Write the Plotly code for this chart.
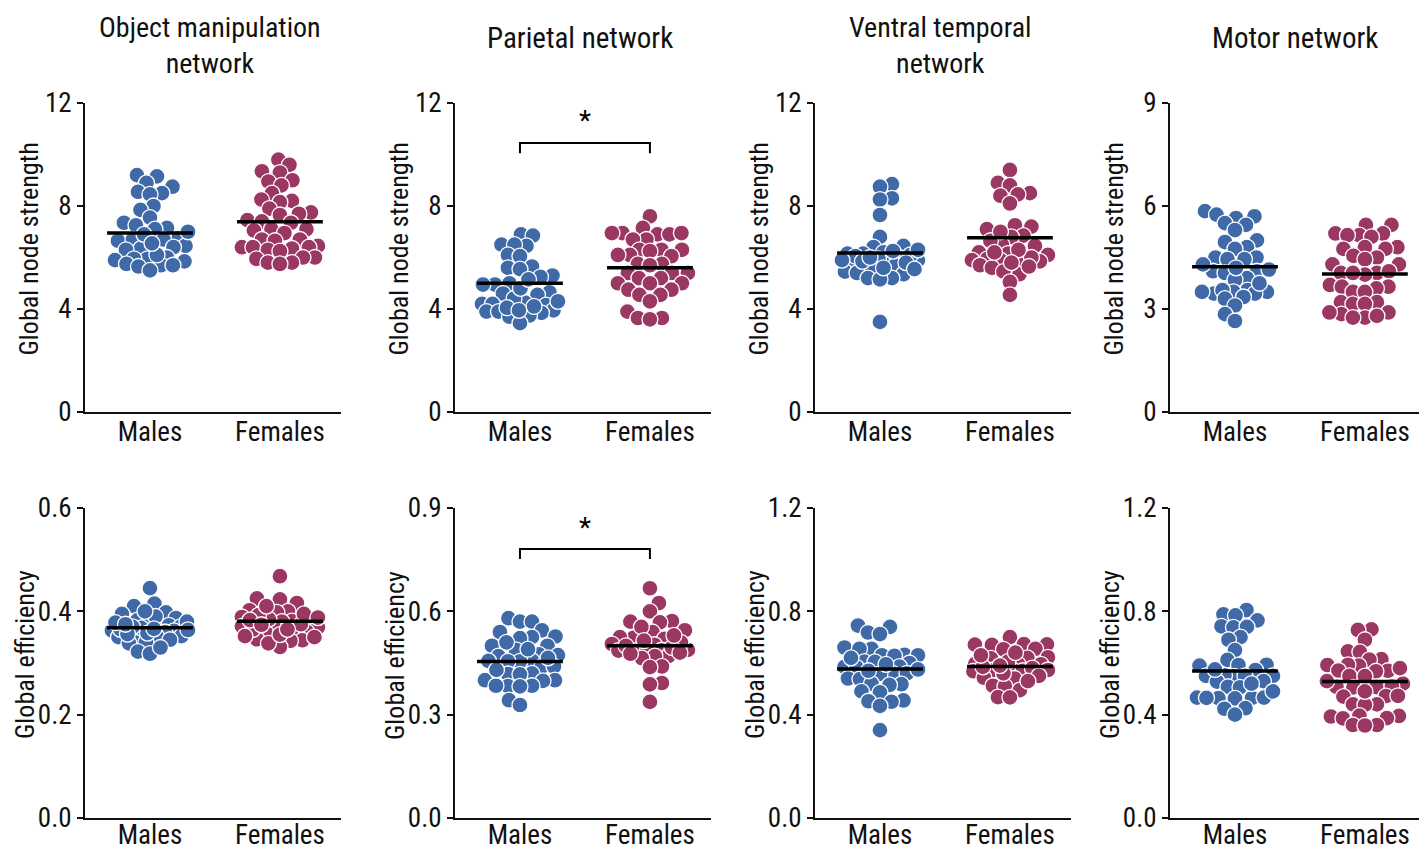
import numpy as np
import plotly.graph_objects as go

# page is 1427x851; the html body adds an 8px margin, so the figure is placed at (8, 8)
PAGE_OFF = 8
W, H = 1419, 843
FONT = "Liberation Sans Narrow, Arial Narrow, Roboto Condensed, Liberation Sans, sans-serif"

groups = ["Males", "Females"]
network_titles = ["Object manipulation<br>network", "Parietal network",
                  "Ventral temporal<br>network", "Motor network"]
row_titles = ["Global node strength", "Global efficiency"]

# ---- Global node strength ----
omn_str_m = [9.2, 9.15, 8.9, 8.75, 8.55, 8.5, 8.45, 8.0, 7.85, 7.55, 7.35, 7.25, 7.15, 7.1, 6.75, 6.7,
             6.65, 6.7, 6.45, 6.4, 6.35, 6.3, 6.0, 5.95, 5.9, 5.95, 5.85, 5.7, 5.75, 5.65, 5.7, 5.5,
             6.1, 6.9, 7.0, 6.55]
omn_str_f = [9.8, 9.6, 9.35, 9.3, 9.0, 8.95, 8.8, 8.5, 8.25, 8.2, 8.15, 7.9, 7.75, 7.7, 7.65, 7.45,
             7.4, 7.35, 7.1, 7.05, 7.1, 6.95, 6.7, 6.7, 6.65, 6.45, 6.4, 6.4, 6.35, 6.4, 6.3, 6.25,
             6.0, 6.0, 5.95, 5.8, 5.8, 5.75]
par_str_m = [6.9, 6.85, 6.5, 6.45, 6.5, 6.1, 6.05, 5.65, 5.6, 5.55, 5.3, 5.25, 4.95, 4.95, 5.0, 4.6,
             4.65, 4.55, 4.25, 4.2, 4.15, 4.2, 3.95, 3.9, 3.9, 3.85, 3.7, 3.75, 3.45, 4.4, 4.8, 5.15,
             4.1, 4.05, 3.95, 4.3]
par_str_f = [7.6, 7.15, 6.95, 6.9, 6.95, 6.9, 6.95, 6.7, 6.7, 6.3, 6.3, 6.25, 6.3, 6.1, 6.1, 6.05,
             5.75, 5.75, 5.7, 5.4, 5.4, 5.4, 5.2, 5.2, 5.0, 5.0, 5.0, 4.75, 4.75, 4.55, 4.55, 4.3,
             3.9, 3.65, 3.65, 3.6]
vt_str_m = [8.85, 8.75, 8.3, 8.25, 7.65, 6.8, 6.45, 6.4, 6.2, 6.15, 6.15, 6.0, 5.95, 5.95, 5.9, 5.75,
            5.7, 5.65, 5.45, 5.4, 5.35, 5.2, 5.2, 5.15, 3.5, 6.1, 6.05, 6.3, 5.85, 5.8, 6.25, 5.6,
            5.55, 6.0, 5.9]
vt_str_f = [9.4, 8.9, 8.8, 8.5, 8.45, 8.4, 8.1, 7.25, 7.2, 7.1, 6.85, 6.8, 6.5, 6.45, 6.2, 6.15,
            6.1, 5.95, 5.9, 5.9, 5.85, 5.9, 5.7, 5.6, 5.45, 5.35, 5.05, 4.55, 6.0, 6.3, 6.65, 7.0,
            5.8, 6.2, 5.65]
mot_str_m = [5.85, 5.75, 5.7, 5.65, 5.5, 5.45, 5.3, 5.0, 4.95, 4.8, 4.75, 4.5, 4.5, 4.45, 4.45, 4.1,
             4.15, 4.1, 4.05, 3.9, 3.85, 3.55, 3.5, 3.5, 3.45, 3.5, 3.55, 3.45, 3.35, 3.3, 3.1, 2.85,
             2.65, 4.3, 4.2, 3.75]
mot_str_f = [5.45, 5.45, 5.2, 5.15, 5.2, 5.15, 5.1, 4.8, 4.75, 4.8, 4.75, 4.5, 4.55, 4.45, 4.3, 4.3,
             4.05, 4.05, 4.0, 4.1, 4.05, 3.7, 3.65, 3.65, 3.6, 3.5, 3.5, 3.2, 3.15, 3.2, 3.15, 2.9,
             2.85, 2.9, 2.75, 2.75, 2.8]

# ---- Global efficiency ----
omn_eff_m = [0.445, 0.415, 0.41, 0.398, 0.395, 0.387, 0.383, 0.375, 0.372, 0.373, 0.37, 0.363, 0.362,
             0.36, 0.352, 0.354, 0.35, 0.352, 0.34, 0.338, 0.322, 0.318, 0.365, 0.368, 0.378, 0.39,
             0.345, 0.358, 0.38, 0.37, 0.356, 0.366, 0.4, 0.33, 0.364, 0.375]
omn_eff_f = [0.468, 0.425, 0.423, 0.416, 0.40, 0.402, 0.398, 0.389, 0.381, 0.38, 0.378, 0.371, 0.369,
             0.37, 0.36, 0.361, 0.358, 0.346, 0.344, 0.343, 0.331, 0.385, 0.392, 0.375, 0.365, 0.352,
             0.338, 0.41, 0.395, 0.383, 0.374, 0.355, 0.365, 0.388, 0.35]
par_eff_m = [0.58, 0.57, 0.57, 0.545, 0.54, 0.525, 0.527, 0.522, 0.50, 0.50, 0.488, 0.473, 0.475, 0.47,
             0.457, 0.455, 0.456, 0.455, 0.44, 0.44, 0.42, 0.418, 0.417, 0.40, 0.40, 0.398, 0.384,
             0.383, 0.382, 0.384, 0.342, 0.328, 0.51, 0.465, 0.43, 0.49]
par_eff_f = [0.667, 0.624, 0.60, 0.57, 0.572, 0.568, 0.545, 0.54, 0.523, 0.525, 0.52, 0.505, 0.503,
             0.488, 0.487, 0.486, 0.488, 0.486, 0.47, 0.47, 0.464, 0.44, 0.438, 0.392, 0.388, 0.337,
             0.51, 0.495, 0.48, 0.53, 0.555, 0.5, 0.477, 0.515]
vt_eff_m = [0.745, 0.74, 0.718, 0.712, 0.66, 0.655, 0.655, 0.632, 0.63, 0.628, 0.63, 0.605, 0.604, 0.60,
            0.585, 0.586, 0.583, 0.56, 0.56, 0.558, 0.54, 0.538, 0.518, 0.52, 0.515, 0.49, 0.486, 0.455,
            0.452, 0.45, 0.434, 0.34, 0.575, 0.595, 0.62, 0.57]
vt_eff_f = [0.70, 0.672, 0.673, 0.67, 0.671, 0.655, 0.653, 0.62, 0.622, 0.618, 0.597, 0.595, 0.596,
            0.573, 0.572, 0.574, 0.57, 0.568, 0.543, 0.54, 0.512, 0.51, 0.495, 0.468, 0.467, 0.585,
            0.58, 0.605, 0.56, 0.55, 0.53, 0.64, 0.59, 0.63]
mot_eff_m = [0.805, 0.788, 0.784, 0.765, 0.742, 0.738, 0.74, 0.70, 0.69, 0.65, 0.612, 0.593, 0.592,
             0.59, 0.573, 0.55, 0.55, 0.548, 0.552, 0.55, 0.53, 0.528, 0.508, 0.506, 0.466, 0.465,
             0.464, 0.466, 0.463, 0.465, 0.425, 0.423, 0.40, 0.575, 0.52, 0.49]
mot_eff_f = [0.73, 0.728, 0.69, 0.645, 0.643, 0.615, 0.613, 0.592, 0.59, 0.593, 0.57, 0.571, 0.568,
             0.55, 0.549, 0.52, 0.508, 0.507, 0.509, 0.506, 0.472, 0.47, 0.473, 0.44, 0.44, 0.438,
             0.395, 0.396, 0.393, 0.387, 0.386, 0.36, 0.36, 0.358, 0.53, 0.49, 0.58]

# group means
str_means = [[6.95, 7.39], [5.0, 5.6], [6.17, 6.77], [4.23, 4.02]]
eff_means = [[0.368, 0.381], [0.454, 0.50], [0.577, 0.586], [0.569, 0.528]]

# axis ranges / ticks
str_ymax = [12, 12, 12, 9]
str_ticks = [[0, 4, 8, 12], [0, 4, 8, 12], [0, 4, 8, 12], [0, 3, 6, 9]]
eff_ymax = [0.6, 0.9, 1.2, 1.2]
eff_ticks = [[0, 0.2, 0.4, 0.6], [0, 0.3, 0.6, 0.9], [0, 0.4, 0.8, 1.2], [0, 0.4, 0.8, 1.2]]

# significance brackets: (row, col, bracket top, leg bottom, star y)
sig_marks = [(0, 1, 10.45, 10.05, 10.6), (1, 1, 0.781, 0.752, 0.79)]

str_data = [(omn_str_m, omn_str_f), (par_str_m, par_str_f), (vt_str_m, vt_str_f), (mot_str_m, mot_str_f)]
eff_data = [(omn_eff_m, omn_eff_f), (par_eff_m, par_eff_f), (vt_eff_m, vt_eff_f), (mot_eff_m, mot_eff_f)]

COLORS = ["#3F6AA7", "#9A3762"]

# ---- layout geometry (page pixels) ----
col_left = [85, 455, 815, 1170]
col_w = 256
row_top = [103, 508]
row_bot = [412, 818]
X_RANGE = [-0.5, 1.47]
px_per_cat = col_w / (X_RANGE[1] - X_RANGE[0])
MSIZE = 16
MIN_D = 12.0
MAX_OFF = 38.0


def fx(px):
    return (px - PAGE_OFF) / W


def fy(py):
    return 1 - (py - PAGE_OFF) / H


def swarm(vals, px_per_unit):
    """Beeswarm offsets (in category units) computed from the values, clamped in width."""
    order = np.argsort(vals)
    placed = []
    offs = np.zeros(len(vals))
    steps = np.arange(0.5, MAX_OFF + 0.01, 0.5)
    base = np.concatenate([[0.0], np.ravel(np.column_stack([steps, -steps]))])
    for k, i in enumerate(order):
        yp = vals[i] * px_per_unit
        cands = base if k % 2 == 0 else -base
        best_c, best_d = 0.0, -1.0
        chosen = None
        for c in cands:
            dmin = 1e9
            for (xq, yq) in placed:
                dy = yp - yq
                if abs(dy) < MIN_D:
                    d = np.hypot(c - xq, dy)
                    if d < dmin:
                        dmin = d
            if dmin >= MIN_D:
                chosen = c
                break
            if dmin > best_d:
                best_d, best_c = dmin, c
        if chosen is None:
            chosen = best_c
        offs[i] = chosen
        placed.append((chosen, yp))
    return offs / px_per_cat


fig = go.Figure()
annotations = []
layout_axes = {}
TICKFONT = dict(size=27, color="#111", family=FONT)

for r in range(2):
    for c in range(4):
        idx = r * 4 + c + 1
        xa = "x" if idx == 1 else f"x{idx}"
        ya = "y" if idx == 1 else f"y{idx}"
        xkey = "xaxis" if idx == 1 else f"xaxis{idx}"
        ykey = "yaxis" if idx == 1 else f"yaxis{idx}"
        ymax = str_ymax[c] if r == 0 else eff_ymax[c]
        ticks = str_ticks[c] if r == 0 else eff_ticks[c]
        data = str_data[c] if r == 0 else eff_data[c]
        means = str_means[c] if r == 0 else eff_means[c]
        ppu = (row_bot[r] - row_top[r]) / ymax

        x0 = fx(col_left[c])
        x1 = min(fx(col_left[c] + col_w), 1.0)
        y0 = fy(row_bot[r])
        y1 = fy(row_top[r])

        layout_axes[xkey] = dict(domain=[x0, x1], range=X_RANGE, anchor=ya, automargin=False,
                                 tickmode="array", tickvals=[0, 1], ticktext=groups,
                                 showline=True, linecolor="#111", linewidth=2, ticks="",
                                 ticklabelstandoff=-5 if r == 0 else -8,
                                 showgrid=False, zeroline=False, tickfont=TICKFONT)
        layout_axes[ykey] = dict(domain=[y0, y1], range=[0, ymax], anchor=xa, automargin=False,
                                 tickmode="array", tickvals=ticks,
                                 tickformat=".1f" if r == 1 else "d",
                                 showline=True, linecolor="#111", linewidth=2,
                                 ticks="outside", ticklen=6, tickwidth=2, tickcolor="#111",
                                 showgrid=False, zeroline=False, tickfont=TICKFONT)

        for g in range(2):
            vals = np.array(data[g], dtype=float)
            xo = swarm(vals, ppu) + g
            fig.add_trace(go.Scatter(x=xo, y=vals, mode="markers", xaxis=xa, yaxis=ya,
                                     marker=dict(size=MSIZE, color=COLORS[g],
                                                 line=dict(color="white", width=1.3)),
                                     showlegend=False, hoverinfo="y"))
        for g in range(2):
            fig.add_trace(go.Scatter(x=[g - 0.33, g + 0.33], y=[means[g], means[g]], mode="lines",
                                     xaxis=xa, yaxis=ya, line=dict(color="black", width=3.5),
                                     showlegend=False, hoverinfo="skip"))

        # y-axis titles
        annotations.append(dict(text=row_titles[r], xref="paper", yref="paper",
                                x=fx(col_left[c] - (57 if r == 0 else 60)),
                                y=fy((row_top[r] + row_bot[r]) / 2 - 8),
                                textangle=-90, showarrow=False, xanchor="center", yanchor="middle",
                                font=dict(size=26, color="#111", family=FONT)))
        if r == 0:
            two_lines = "<br>" in network_titles[c]
            annotations.append(dict(text=network_titles[c], xref="paper", yref="paper",
                                    x=fx(col_left[c] + 125), y=fy(9 if two_lines else 38),
                                    showarrow=False, xanchor="center",
                                    yanchor="top" if two_lines else "middle",
                                    font=dict(size=28 if two_lines else 29, color="#111",
                                              family=FONT)))

for (r, c, top, leg, star) in sig_marks:
    idx = r * 4 + c + 1
    xa = "x" if idx == 1 else f"x{idx}"
    ya = "y" if idx == 1 else f"y{idx}"
    fig.add_trace(go.Scatter(x=[0, 0, 1, 1], y=[leg, top, top, leg], mode="lines",
                             xaxis=xa, yaxis=ya, line=dict(color="black", width=2),
                             showlegend=False, hoverinfo="skip"))
    annotations.append(dict(text="*", x=0.5, y=star, xref=xa, yref=ya, showarrow=False,
                            xanchor="center", yanchor="bottom",
                            font=dict(size=28, color="black", family=FONT)))

fig.update_layout(width=W, height=H, margin=dict(l=0, r=0, t=0, b=0, autoexpand=False),
                  paper_bgcolor="white", plot_bgcolor="white",
                  font=dict(family=FONT, color="#111"),
                  annotations=annotations, **layout_axes)

fig.write_html("out.html")
